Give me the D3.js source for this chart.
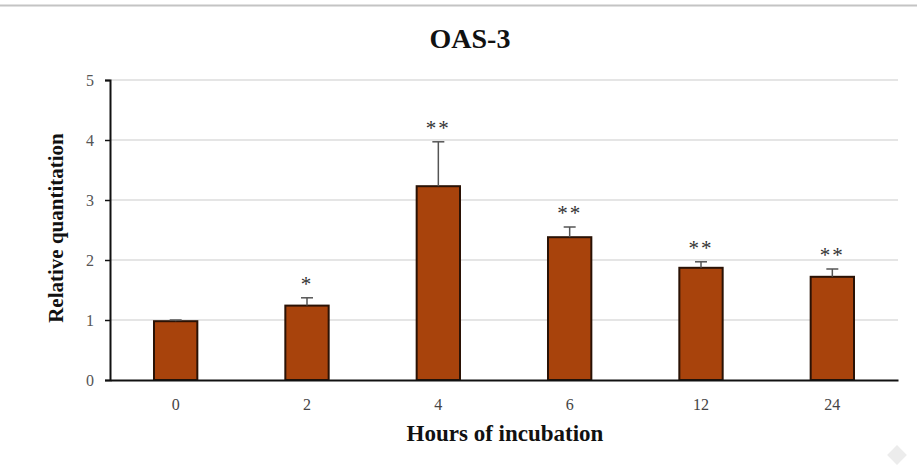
<!DOCTYPE html>
<html>
<head>
<meta charset="utf-8">
<script src="https://cdn.jsdelivr.net/npm/d3@7"></script>
<style>
body { margin:0; background:#fff; }
text { font-family: "Liberation Serif", "Times New Roman", serif; }
</style>
</head>
<body>
<svg id="chart" width="917" height="470"></svg>
<script>
var hours = ["0", "2", "4", "6", "12", "24"];
var means = [0.98, 1.24, 3.23, 2.38, 1.87, 1.72];
var errors = [0.02, 0.13, 0.74, 0.17, 0.10, 0.13];
var stars = ["", "*", "**", "**", "**", "**"];
var yTicks = [0, 1, 2, 3, 4, 5];

var svg = d3.select("#chart");
var margin = {left:110, right:19, top:80, bottom:90};
var width = 917 - margin.left - margin.right;
var height = 470 - margin.top - margin.bottom;

// grey page line at top
svg.append("line")
	.attr("x1", 0).attr("x2", 917)
	.attr("y1", 5.5).attr("y2", 5.5)
	.attr("stroke", "#c4c4c4").attr("stroke-width", 2);

var g = svg.append("g")
	.attr("transform", "translate(" + margin.left + "," + margin.top + ")");

var x = d3.scaleBand()
	.domain(hours)
	.range([0, width])
	.paddingInner(0.67)
	.paddingOuter(0.335);

var y = d3.scaleLinear()
	.domain([0, 5])
	.range([height, 0]);

// gridlines
g.append("g")
	.selectAll("line")
	.data(yTicks.filter(function(d){ return d > 0; }))
	.enter().append("line")
	.attr("x1", 0).attr("x2", width)
	.attr("y1", function(d){ return y(d); })
	.attr("y2", function(d){ return y(d); })
	.attr("stroke", "#dcdcdc").attr("stroke-width", 1.5);

// y axis
var yAxis = g.append("g")
	.call(d3.axisLeft(y).tickValues(yTicks).tickSize(5).tickPadding(11).tickFormat(d3.format("d")));
yAxis.select(".domain").attr("stroke", "#111").attr("stroke-width", 2);
yAxis.selectAll(".tick line").attr("stroke", "#111").attr("stroke-width", 1.5);
yAxis.selectAll("text")
	.attr("font-size", 16)
	.attr("fill", "#555")
	.style("font-family", "Liberation Serif, serif");

// bars
g.selectAll("rect.bar")
	.data(means)
	.enter().append("rect")
	.attr("class", "bar")
	.attr("x", function(d, i){ return x(hours[i]); })
	.attr("y", function(d){ return y(d); })
	.attr("width", x.bandwidth())
	.attr("height", function(d){ return height - y(d); })
	.attr("fill", "#a8430c")
	.attr("stroke", "#2a1205")
	.attr("stroke-width", 2);

// error bars
var eb = g.selectAll("g.err")
	.data(means)
	.enter().append("g")
	.attr("class", "err");
eb.append("line")
	.attr("x1", function(d, i){ return x(hours[i]) + x.bandwidth()/2; })
	.attr("x2", function(d, i){ return x(hours[i]) + x.bandwidth()/2; })
	.attr("y1", function(d){ return y(d); })
	.attr("y2", function(d, i){ return y(d + errors[i]); })
	.attr("stroke", "#555").attr("stroke-width", 1.5);
eb.append("line")
	.attr("x1", function(d, i){ return x(hours[i]) + x.bandwidth()/2 - 6; })
	.attr("x2", function(d, i){ return x(hours[i]) + x.bandwidth()/2 + 6; })
	.attr("y1", function(d, i){ return y(d + errors[i]); })
	.attr("y2", function(d, i){ return y(d + errors[i]); })
	.attr("stroke", "#555").attr("stroke-width", 1.5);

// significance
g.selectAll("text.star")
	.data(means)
	.enter().append("text")
	.attr("class", "star")
	.attr("x", function(d, i){ return x(hours[i]) + x.bandwidth()/2; })
	.attr("y", function(d, i){ return y(d + errors[i]) - 7; })
	.attr("text-anchor", "middle")
	.attr("font-size", 21)
	.attr("letter-spacing", 2)
	.attr("fill", "#333")
	.text(function(d, i){ return stars[i]; });

// x axis
var xAxis = g.append("g")
	.attr("transform", "translate(0," + height + ")")
	.call(d3.axisBottom(x).tickSize(0).tickPadding(19));
xAxis.select(".domain").attr("stroke", "#111").attr("stroke-width", 2);
xAxis.selectAll("text")
	.attr("font-size", 16)
	.attr("fill", "#444")
	.style("font-family", "Liberation Serif, serif");

// titles
svg.append("text")
	.attr("x", 470).attr("y", 48)
	.attr("text-anchor", "middle")
	.attr("font-size", 28).attr("font-weight", "bold")
	.attr("fill", "#111")
	.text("OAS-3");

svg.append("text")
	.attr("x", 505).attr("y", 441)
	.attr("text-anchor", "middle")
	.attr("font-size", 23).attr("font-weight", "bold")
	.attr("fill", "#111")
	.text("Hours of incubation");

svg.append("text")
	.attr("transform", "translate(63,228) rotate(-90)")
	.attr("text-anchor", "middle")
	.attr("font-size", 21).attr("font-weight", "bold")
	.attr("fill", "#111")
	.text("Relative quantitation");

// faint corner mark
svg.append("rect")
	.attr("x", 890).attr("y", 448)
	.attr("width", 14).attr("height", 14)
	.attr("transform", "rotate(45,897,455)")
	.attr("fill", "#ececec");
</script>
</body>
</html>
